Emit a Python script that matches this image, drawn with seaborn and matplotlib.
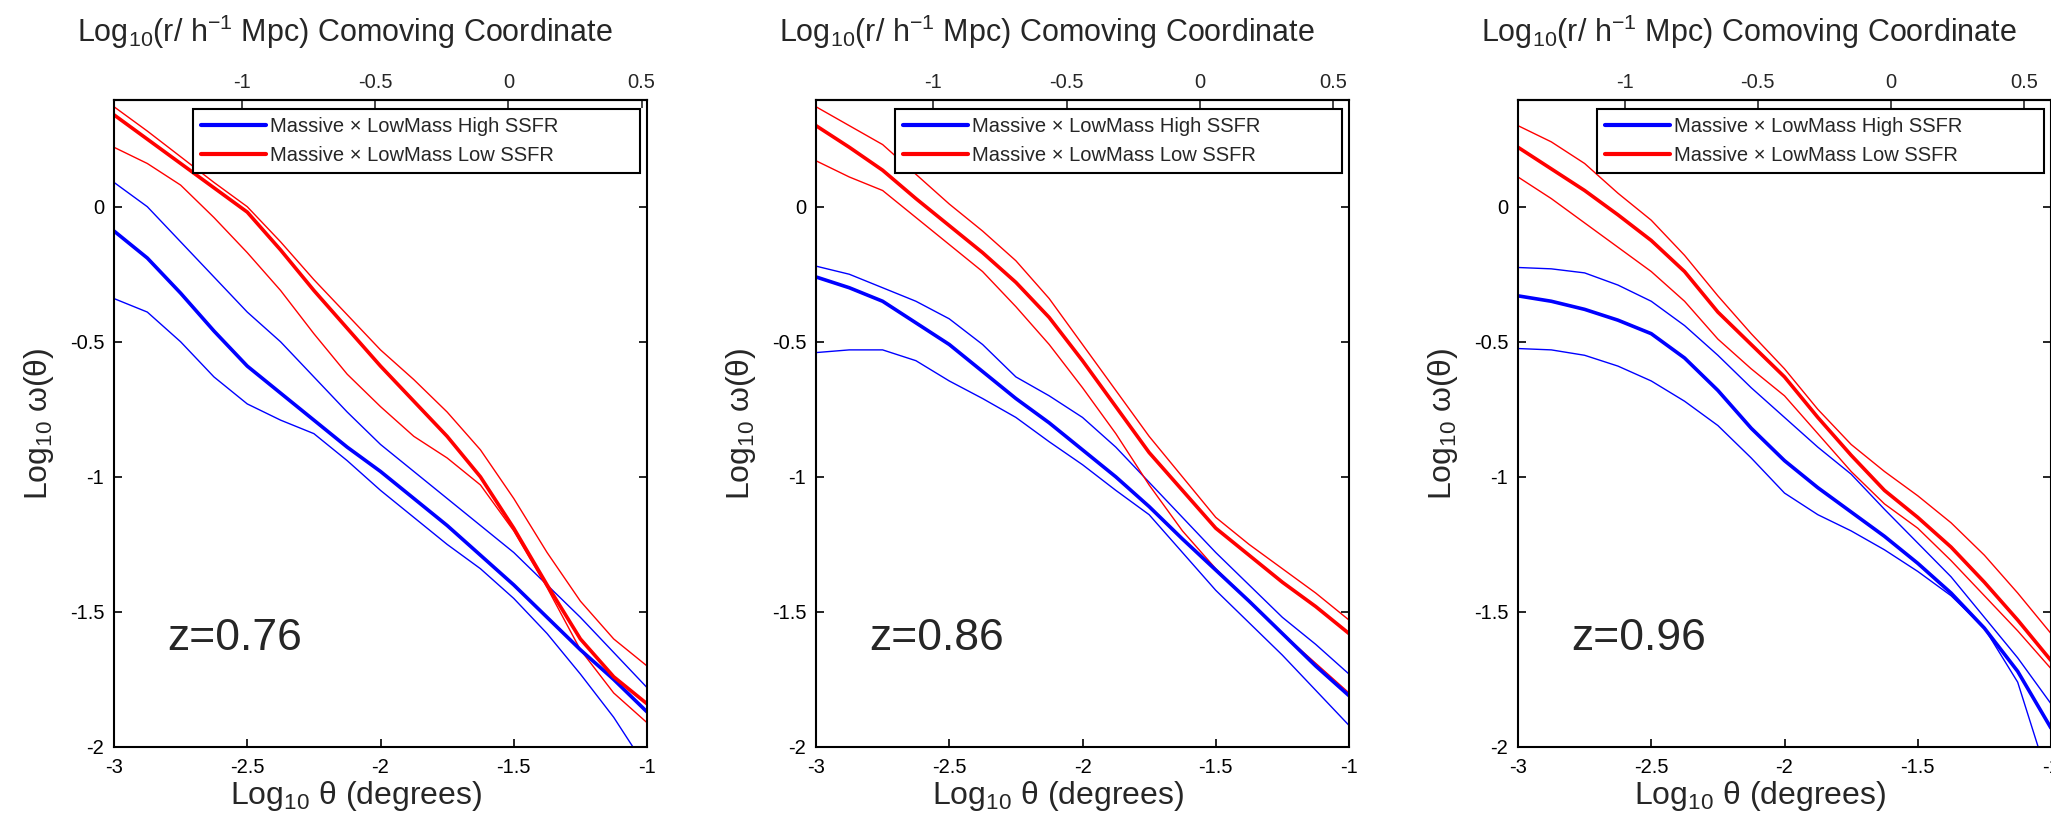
import matplotlib
matplotlib.use("Agg")
import matplotlib.pyplot as plt
import seaborn as sns
from matplotlib.ticker import FormatStrFormatter

# log10 theta (degrees) sample points, shared by all curves
theta = [-3.0, -2.875, -2.75, -2.625, -2.5, -2.375, -2.25, -2.125, -2.0,
         -1.875, -1.75, -1.625, -1.5, -1.375, -1.25, -1.125, -1.0]

# z = 0.76
red_076 = [0.34, 0.25, 0.16, 0.07, -0.02, -0.16, -0.31, -0.45, -0.59,
           -0.72, -0.85, -1.00, -1.19, -1.40, -1.60, -1.74, -1.84]
red_hi_076 = [0.37, 0.28, 0.185, 0.09, 0.0, -0.13, -0.27, -0.40, -0.53,
              -0.64, -0.76, -0.90, -1.08, -1.28, -1.46, -1.60, -1.70]
red_lo_076 = [0.22, 0.16, 0.08, -0.04, -0.17, -0.31, -0.47, -0.62, -0.74,
              -0.85, -0.93, -1.03, -1.20, -1.41, -1.64, -1.80, -1.91]
blue_076 = [-0.09, -0.19, -0.32, -0.46, -0.59, -0.69, -0.79, -0.89, -0.98,
            -1.08, -1.18, -1.29, -1.40, -1.52, -1.64, -1.75, -1.87]
blue_hi_076 = [0.09, 0.0, -0.13, -0.26, -0.39, -0.50, -0.63, -0.76, -0.88,
               -0.98, -1.08, -1.18, -1.28, -1.40, -1.52, -1.65, -1.78]
blue_lo_076 = [-0.34, -0.39, -0.50, -0.63, -0.73, -0.79, -0.84, -0.94, -1.05,
               -1.15, -1.25, -1.34, -1.45, -1.58, -1.73, -1.89, -2.08]

# z = 0.86
red_086 = [0.30, 0.22, 0.135, 0.03, -0.07, -0.17, -0.28, -0.41, -0.57,
           -0.74, -0.91, -1.05, -1.19, -1.29, -1.39, -1.48, -1.58]
red_hi_086 = [0.37, 0.30, 0.23, 0.12, 0.01, -0.09, -0.20, -0.34, -0.51,
              -0.68, -0.85, -1.00, -1.15, -1.25, -1.34, -1.43, -1.53]
red_lo_086 = [0.17, 0.11, 0.06, -0.04, -0.14, -0.24, -0.37, -0.51, -0.67,
              -0.84, -1.03, -1.20, -1.34, -1.46, -1.58, -1.69, -1.80]
blue_086 = [-0.26, -0.30, -0.35, -0.43, -0.51, -0.61, -0.71, -0.80, -0.90,
            -1.00, -1.11, -1.23, -1.345, -1.46, -1.58, -1.70, -1.81]
blue_hi_086 = [-0.22, -0.25, -0.30, -0.35, -0.415, -0.51, -0.63, -0.70, -0.78,
               -0.89, -1.02, -1.15, -1.28, -1.40, -1.52, -1.62, -1.73]
blue_lo_086 = [-0.54, -0.53, -0.53, -0.57, -0.645, -0.71, -0.78, -0.87, -0.955,
               -1.05, -1.14, -1.28, -1.42, -1.54, -1.66, -1.79, -1.92]

# z = 0.96
red_096 = [0.22, 0.14, 0.06, -0.03, -0.125, -0.24, -0.39, -0.51, -0.63,
           -0.78, -0.92, -1.05, -1.15, -1.26, -1.39, -1.53, -1.68]
red_hi_096 = [0.30, 0.24, 0.16, 0.05, -0.05, -0.18, -0.33, -0.47, -0.60,
              -0.75, -0.88, -0.98, -1.07, -1.17, -1.29, -1.43, -1.58]
red_lo_096 = [0.11, 0.03, -0.06, -0.15, -0.24, -0.35, -0.49, -0.60, -0.70,
              -0.84, -0.98, -1.10, -1.19, -1.31, -1.44, -1.57, -1.71]
blue_096 = [-0.33, -0.35, -0.38, -0.42, -0.47, -0.56, -0.68, -0.82, -0.94,
            -1.04, -1.13, -1.22, -1.32, -1.43, -1.56, -1.72, -1.93]
blue_hi_096 = [-0.225, -0.23, -0.245, -0.29, -0.35, -0.44, -0.55, -0.67, -0.78,
               -0.89, -0.99, -1.12, -1.245, -1.37, -1.52, -1.67, -1.84]
blue_lo_096 = [-0.525, -0.53, -0.55, -0.59, -0.645, -0.72, -0.81, -0.93, -1.06,
               -1.14, -1.20, -1.27, -1.35, -1.44, -1.56, -1.76, -2.15]

panel_labels = ["z=0.76", "z=0.86", "z=0.96"]
# offset between log10 theta and log10 comoving r for each redshift
comoving_offset = [1.52, 1.56, 1.60]
top_ticks = [-1, -0.5, 0, 0.5]
bottom_ticks = [-3, -2.5, -2, -1.5, -1]
y_ticks = [-2, -1.5, -1, -0.5, 0]

panels = [
    (red_076, red_hi_076, red_lo_076, blue_076, blue_hi_076, blue_lo_076),
    (red_086, red_hi_086, red_lo_086, blue_086, blue_hi_086, blue_lo_086),
    (red_096, red_hi_096, red_lo_096, blue_096, blue_hi_096, blue_lo_096),
]

sns.set_theme(style="ticks")
plt.rcParams["font.family"] = ["Liberation Sans", "DejaVu Sans"]
plt.rcParams["mathtext.fontset"] = "custom"
plt.rcParams["mathtext.rm"] = "Liberation Sans"
plt.rcParams["mathtext.it"] = "Liberation Sans:italic"
plt.rcParams["axes.unicode_minus"] = False

fig = plt.figure(figsize=(20.51, 8.18), dpi=100)
lefts = [114 / 2051, 816 / 2051, 1518 / 2051]
w = 533 / 2051
b = 71 / 818
h = 647 / 818

for i, (red, red_hi, red_lo, blue, blue_hi, blue_lo) in enumerate(panels):
    ax = fig.add_axes([lefts[i], b, w, h])

    # thin lines: error envelopes, thick lines: the measurements
    sns.lineplot(x=theta, y=blue_hi, ax=ax, color="blue", lw=1.0, estimator=None, sort=False)
    sns.lineplot(x=theta, y=blue_lo, ax=ax, color="blue", lw=1.0, estimator=None, sort=False)
    sns.lineplot(x=theta, y=red_hi, ax=ax, color="red", lw=1.0, estimator=None, sort=False)
    sns.lineplot(x=theta, y=red_lo, ax=ax, color="red", lw=1.0, estimator=None, sort=False)
    sns.lineplot(x=theta, y=blue, ax=ax, color="blue", lw=2.6, estimator=None, sort=False,
                 label="Massive \u00d7 LowMass High SSFR")
    sns.lineplot(x=theta, y=red, ax=ax, color="red", lw=2.6, estimator=None, sort=False,
                 label="Massive \u00d7 LowMass Low SSFR")

    ax.set_xlim(-3, -1)
    ax.set_ylim(-2, 0.395)
    ax.set_xticks(bottom_ticks)
    ax.set_yticks(y_ticks)
    ax.xaxis.set_major_formatter(FormatStrFormatter("%g"))
    ax.yaxis.set_major_formatter(FormatStrFormatter("%g"))
    ax.tick_params(axis="both", direction="in", length=6, width=1.2,
                   labelsize=14.5, colors="black")
    ax.tick_params(axis="x", pad=8, top=False)
    ax.tick_params(axis="y", pad=7, right=True)
    for sp in ax.spines.values():
        sp.set_visible(True)
        sp.set_linewidth(1.5)
        sp.set_color("black")

    off = comoving_offset[i]
    secax = ax.secondary_xaxis("top", functions=(lambda x, o=off: x + o,
                                                 lambda x, o=off: x - o))
    secax.set_xticks(top_ticks)
    secax.xaxis.set_major_formatter(FormatStrFormatter("%g"))
    secax.tick_params(direction="in", length=6, width=1.2, labelsize=14.5, pad=6)
    secax.spines["top"].set_linewidth(1.5)
    secax.set_xlabel("Log$_{10}$(r/ h$^{-1}$ Mpc) Comoving Coordinate", fontsize=22)
    secax.xaxis.set_label_coords(0.433, 1.09, transform=ax.transAxes)
    secax.xaxis.label.set_va("baseline")

    ax.set_xlabel("Log$_{10}$ \u03b8 (degrees)", fontsize=23)
    ax.xaxis.set_label_coords(0.455, -0.05)
    ax.set_ylabel("Log$_{10}$ \u03c9(\u03b8)", fontsize=23, labelpad=10)

    ax.text(0.10, 0.167, panel_labels[i], transform=ax.transAxes,
            fontsize=32, ha="left", va="center")

    leg = ax.legend(loc="upper left", bbox_to_anchor=(0.149, 0.986, 0.838, 0.0),
                    mode="expand", fontsize=14.5, handlelength=3.2, handletextpad=0.2,
                    borderpad=0.4, labelspacing=0.5, frameon=True, fancybox=False,
                    borderaxespad=0.0)
    leg.get_frame().set_edgecolor("black")
    leg.get_frame().set_linewidth(1.5)
    leg.get_frame().set_alpha(1.0)
    for ln in leg.get_lines():
        ln.set_linewidth(3.0)

fig.savefig("out.png", dpi=100)
